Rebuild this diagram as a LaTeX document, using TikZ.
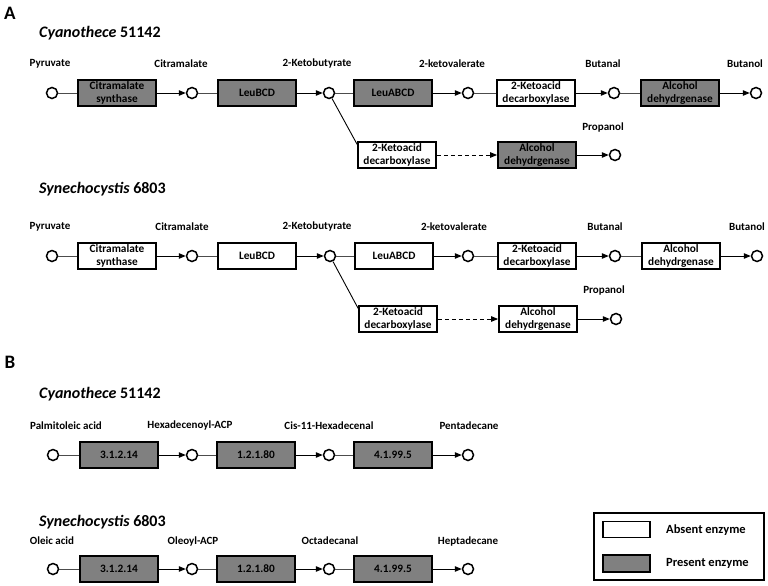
\documentclass[tikz,border=0pt]{standalone}
\usepackage{fontspec}
\setmainfont{Carlito}
\usetikzlibrary{arrows.meta}
\definecolor{enzgray}{RGB}{128,128,128}
\tikzset{
 met/.style={circle,draw=black,line width=1.5pt,fill=white,minimum size=11pt,inner sep=0pt},
 enz/.style={draw=black,line width=1.8pt,minimum width=78pt,minimum height=26pt,inner sep=0pt,align=center,font=\bfseries\fontsize{11.3}{12.5}\selectfont},
 present/.style={enz,fill=enzgray},
 absent/.style={enz,fill=white},
 lbl/.style={font=\bfseries\fontsize{11}{13}\selectfont,inner sep=0pt},
 ttl/.style={font=\bfseries\fontsize{16}{18}\selectfont,anchor=west,inner sep=0pt},
 panel/.style={font=\bfseries\fontsize{19}{21}\selectfont,inner sep=0pt},
 link/.style={line width=0.9pt,draw=black!70},
 flow/.style={line width=0.9pt,-{Triangle[length=7pt,width=5.5pt]}},
 dflow/.style={flow,dash pattern=on 4pt off 3pt},
 legbox/.style={draw=black,line width=1.4pt,inner sep=0pt},
 legtext/.style={font=\bfseries\fontsize{12.5}{14}\selectfont,anchor=west,inner sep=0pt},
}
\begin{document}
\begin{tikzpicture}[x=1pt,y=-1pt]
\useasboundingbox (0,0) rectangle (768,586);
% ---------- Panel A ----------
\node[panel] (pA) at (10,13) {A};
\node[ttl] (tA1) at (39,33) {\textit{Cyanothece} 51142};
% row A1
\node[met] (a1c1) at (52,93) {};
\node[present] (a1e1) at (117,93) {Citramalate\\synthase};
\node[met] (a1c2) at (192,93) {};
\node[present] (a1e2) at (257,93) {LeuBCD};
\node[met] (a1c3) at (329,93) {};
\node[present] (a1e3) at (393,93) {LeuABCD};
\node[met] (a1c4) at (468,93) {};
\node[absent] (a1e4) at (536,93) {2-Ketoacid\\decarboxylase};
\node[met] (a1c5) at (614,93) {};
\node[present] (a1e5) at (680,93) {Alcohol\\dehydrgenase};
\node[met] (a1c6) at (756,93) {};
\node[absent] (a1e6) at (397,155) {2-Ketoacid\\decarboxylase};
\node[present] (a1e7) at (537,155) {Alcohol\\dehydrgenase};
\node[met] (a1c7) at (615,155) {};
\node[lbl] (a1l1) at (50,64) {Pyruvate};
\node[lbl] (a1l2) at (181,64) {Citramalate};
\node[lbl] (a1l3) at (317,64) {2-Ketobutyrate};
\node[lbl] (a1l4) at (452,64) {2-ketovalerate};
\node[lbl] (a1l5) at (603,64) {Butanal};
\node[lbl] (a1l6) at (745,64) {Butanol};
\node[lbl] (a1l7) at (603,128) {Propanol};
\draw[link] (a1c1) -- (a1e1);
\draw[flow] (a1e1) -- (a1c2);
\draw[link] (a1c2) -- (a1e2);
\draw[flow] (a1e2) -- (a1c3);
\draw[link] (a1c3) -- (a1e3);
\draw[flow] (a1e3) -- (a1c4);
\draw[link] (a1c4) -- (a1e4);
\draw[flow] (a1e4) -- (a1c5);
\draw[link] (a1c5) -- (a1e5);
\draw[flow] (a1e5) -- (a1c6);
\draw[line width=0.9pt] (a1c3) -- (a1e6.165);
\draw[dflow] (a1e6) -- (a1e7);
\draw[flow] (a1e7) -- (a1c7);
% row A2
\node[ttl] (tA2) at (39,189) {\textit{Synechocystis} 6803};
\node[met] (a2c1) at (52,256) {};
\node[absent] (a2e1) at (117,256) {Citramalate\\synthase};
\node[met] (a2c2) at (192,256) {};
\node[absent] (a2e2) at (257,256) {LeuBCD};
\node[met] (a2c3) at (330,256) {};
\node[absent] (a2e3) at (394,256) {LeuABCD};
\node[met] (a2c4) at (468,256) {};
\node[absent] (a2e4) at (537,256) {2-Ketoacid\\decarboxylase};
\node[met] (a2c5) at (615,256) {};
\node[absent] (a2e5) at (681,256) {Alcohol\\dehydrgenase};
\node[met] (a2c6) at (757,256) {};
\node[absent] (a2e6) at (398,319) {2-Ketoacid\\decarboxylase};
\node[absent] (a2e7) at (538,319) {Alcohol\\dehydrgenase};
\node[met] (a2c7) at (616,319) {};
\node[lbl] (a2l1) at (50,227) {Pyruvate};
\node[lbl] (a2l2) at (182,227) {Citramalate};
\node[lbl] (a2l3) at (317,227) {2-Ketobutyrate};
\node[lbl] (a2l4) at (454,227) {2-ketovalerate};
\node[lbl] (a2l5) at (605,227) {Butanal};
\node[lbl] (a2l6) at (747,227) {Butanol};
\node[lbl] (a2l7) at (604,291) {Propanol};
\draw[link] (a2c1) -- (a2e1);
\draw[flow] (a2e1) -- (a2c2);
\draw[link] (a2c2) -- (a2e2);
\draw[flow] (a2e2) -- (a2c3);
\draw[link] (a2c3) -- (a2e3);
\draw[flow] (a2e3) -- (a2c4);
\draw[link] (a2c4) -- (a2e4);
\draw[flow] (a2e4) -- (a2c5);
\draw[link] (a2c5) -- (a2e5);
\draw[flow] (a2e5) -- (a2c6);
\draw[line width=0.9pt] (a2c3) -- (a2e6.165);
\draw[dflow] (a2e6) -- (a2e7);
\draw[flow] (a2e7) -- (a2c7);
% ---------- Panel B ----------
\node[panel] (pB) at (10,362) {B};
\node[ttl] (tB1) at (39,394) {\textit{Cyanothece} 51142};
\node[met] (b1c1) at (53,455) {};
\node[present] (b1e1) at (119,455) {3.1.2.14};
\node[met] (b1c2) at (192,455) {};
\node[present] (b1e2) at (256,455) {1.2.1.80};
\node[met] (b1c3) at (329,455) {};
\node[present] (b1e3) at (393,455) {4.1.99.5};
\node[met] (b1c4) at (468,455) {};
\node[lbl] (b1l1) at (66,426) {Palmitoleic acid};
\node[lbl] (b1l2) at (190,426) {Hexadecenoyl-ACP};
\node[lbl] (b1l3) at (329,426) {Cis-11-Hexadecenal};
\node[lbl] (b1l4) at (469,426) {Pentadecane};
\draw[link] (b1c1) -- (b1e1);
\draw[flow] (b1e1) -- (b1c2);
\draw[link] (b1c2) -- (b1e2);
\draw[flow] (b1e2) -- (b1c3);
\draw[link] (b1c3) -- (b1e3);
\draw[flow] (b1e3) -- (b1c4);
\node[ttl] (tB2) at (39,522) {\textit{Synechocystis} 6803};
\node[met] (b2c1) at (53,569) {};
\node[present] (b2e1) at (119,569) {3.1.2.14};
\node[met] (b2c2) at (192,569) {};
\node[present] (b2e2) at (256,569) {1.2.1.80};
\node[met] (b2c3) at (329,569) {};
\node[present] (b2e3) at (393,569) {4.1.99.5};
\node[met] (b2c4) at (468,569) {};
\node[lbl] (b2l1) at (52,541) {Oleic acid};
\node[lbl] (b2l2) at (193,541) {Oleoyl-ACP};
\node[lbl] (b2l3) at (330,541) {Octadecanal};
\node[lbl] (b2l4) at (468,541) {Heptadecane};
\draw[link] (b2c1) -- (b2e1);
\draw[flow] (b2e1) -- (b2c2);
\draw[link] (b2c2) -- (b2e2);
\draw[flow] (b2e2) -- (b2c3);
\draw[link] (b2c3) -- (b2e3);
\draw[flow] (b2e3) -- (b2c4);
% ---------- Legend ----------
\node[legbox,minimum width=170pt,minimum height=67pt] (leg) at (679,546.5) {};
\node[legbox,fill=white,minimum width=47pt,minimum height=16pt] (legA) at (626.5,529.5) {};
\node[legbox,fill=enzgray,minimum width=47pt,minimum height=17pt] (legP) at (626.5,563.5) {};
\node[legtext] (legAt) at (666,530) {Absent enzyme};
\node[legtext] (legPt) at (666,563) {Present enzyme};
\end{tikzpicture}
\end{document}
